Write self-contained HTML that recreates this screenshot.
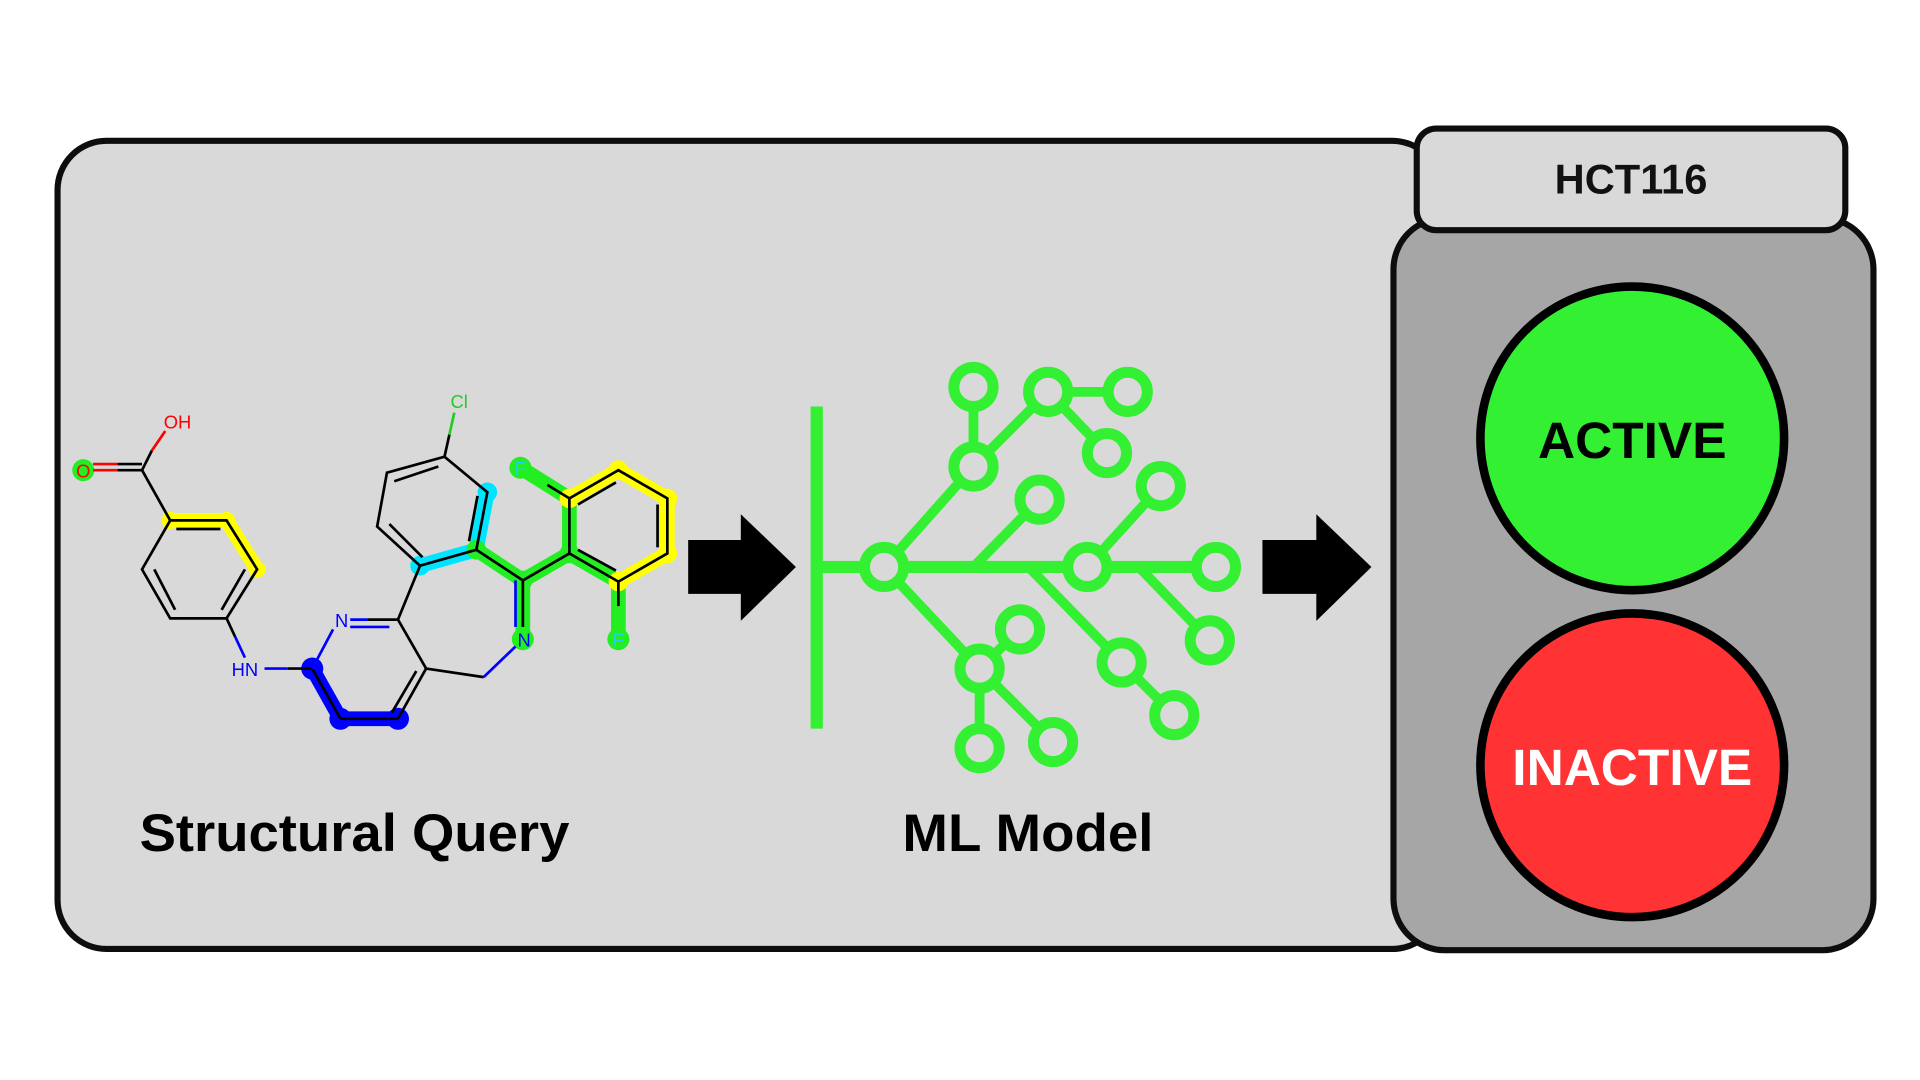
<!DOCTYPE html>
<html><head><meta charset="utf-8"><style>
html,body{margin:0;padding:0;background:#fff;width:1920px;height:1080px;overflow:hidden}
svg{display:block}
text{font-family:"Liberation Sans",sans-serif}
</style></head><body>
<svg width="1920" height="1080" viewBox="0 0 1568 882" xmlns="http://www.w3.org/2000/svg">
<rect width="1568" height="882" fill="#fff"/>
<rect x="47" y="115" width="1130" height="660" rx="40" fill="#d9d9d9" stroke="#0d0d0d" stroke-width="5"/>
<rect x="1138" y="178" width="392" height="598" rx="42" fill="#a6a6a6" stroke="#0d0d0d" stroke-width="5"/>
<rect x="1157" y="105" width="350" height="83" rx="16" fill="#d9d9d9" stroke="#0d0d0d" stroke-width="5"/>
<text x="1332" y="158" text-anchor="middle" font-size="34" font-weight="bold" fill="#111">HCT116</text>
<circle cx="1333" cy="358" r="124" fill="#33f033" stroke="#000" stroke-width="7"/>
<text x="1333" y="374" text-anchor="middle" font-size="42" font-weight="bold" fill="#000">ACTIVE</text>
<circle cx="1333" cy="625" r="124" fill="#ff3333" stroke="#000" stroke-width="7"/>
<text x="1333" y="641" text-anchor="middle" font-size="42" font-weight="bold" fill="#fff">INACTIVE</text>

<text x="114" y="695" font-size="43" font-weight="bold" fill="#000" textLength="351" lengthAdjust="spacingAndGlyphs">Structural Query</text>
<text x="737" y="695" font-size="43" font-weight="bold" fill="#000" textLength="205" lengthAdjust="spacingAndGlyphs">ML Model</text>

<polygon points="562,441 605,441 605,420 650,463 605,507 605,485 562,485" fill="#000"/>
<polygon points="1031,441 1075,441 1075,420 1120,463 1075,507 1075,485 1031,485" fill="#000"/>

<g stroke="#33f033" fill="none" stroke-linecap="butt">
<line x1="667" y1="332" x2="667" y2="595" stroke-width="10"/>
<line x1="667" y1="463" x2="993" y2="463" stroke-width="10"/>
<g stroke-width="8">
<line x1="722" y1="463" x2="795" y2="381"/>
<line x1="795" y1="381" x2="795" y2="316"/>
<line x1="795" y1="381" x2="856" y2="320"/>
<line x1="856" y1="320" x2="921" y2="320"/>
<line x1="856" y1="320" x2="904" y2="370"/>
<line x1="795" y1="463" x2="849" y2="408"/>
<line x1="888" y1="463" x2="948" y2="397"/>
<line x1="930" y1="463" x2="988" y2="523"/>
<line x1="840" y1="463" x2="916" y2="541"/>
<line x1="916" y1="541" x2="959" y2="584"/>
<line x1="722" y1="463" x2="800" y2="546"/>
<line x1="800" y1="546" x2="833" y2="514"/>
<line x1="800" y1="546" x2="800" y2="611"/>
<line x1="800" y1="546" x2="860" y2="606"/>
</g>
<g stroke-width="9" fill="#d9d9d9">
<circle cx="722" cy="463" r="16"/>
<circle cx="795" cy="316" r="16"/>
<circle cx="856" cy="320" r="16"/>
<circle cx="921" cy="320" r="16"/>
<circle cx="904" cy="370" r="16"/>
<circle cx="795" cy="381" r="16"/>
<circle cx="849" cy="408" r="16"/>
<circle cx="948" cy="397" r="16"/>
<circle cx="888" cy="463" r="16"/>
<circle cx="993" cy="463" r="16"/>
<circle cx="988" cy="523" r="16"/>
<circle cx="916" cy="541" r="16"/>
<circle cx="959" cy="584" r="16"/>
<circle cx="833" cy="514" r="16"/>
<circle cx="800" cy="546" r="16"/>
<circle cx="800" cy="611" r="16"/>
<circle cx="860" cy="606" r="16"/>
</g>
</g>

<g stroke-linecap="round" stroke-linejoin="round" fill="none">
<polyline points="139,425 185,425 210,465" stroke="#ffff00" stroke-width="12"/>
<polyline points="255,546 278,587 325,587" stroke="#0000ff" stroke-width="12"/>
<polyline points="343,462 389,449 398,402" stroke="#00e5ff" stroke-width="12"/>
<polyline points="389,449 427,474 465,452 505,475" stroke="#22ee22" stroke-width="12"/>
<polyline points="427,474 427,522" stroke="#22ee22" stroke-width="12"/>
<polyline points="465,452 465,407 425,382" stroke="#22ee22" stroke-width="12"/>
<polyline points="505,475 505,522" stroke="#22ee22" stroke-width="12"/>
<polyline points="465,407 505,384 545,407 545,452 505,475" stroke="#ffff00" stroke-width="12"/>
</g>
<g>
<circle cx="139" cy="425" r="7" fill="#ffff00"/><circle cx="185" cy="425" r="7" fill="#ffff00"/><circle cx="210" cy="465" r="7" fill="#ffff00"/>
<circle cx="68" cy="384" r="9" fill="#22ee22"/>
<circle cx="255" cy="546" r="9" fill="#0000ff"/><circle cx="278" cy="587" r="9" fill="#0000ff"/><circle cx="325" cy="587" r="9" fill="#0000ff"/>
<circle cx="343" cy="462" r="8" fill="#00e5ff"/><circle cx="398" cy="402" r="8" fill="#00e5ff"/>
<circle cx="389" cy="449" r="8" fill="#22ee22"/><circle cx="427" cy="474" r="8" fill="#22ee22"/><circle cx="427" cy="522" r="9" fill="#22ee22"/>
<circle cx="425" cy="382" r="9" fill="#22ee22"/><circle cx="505" cy="522" r="9" fill="#22ee22"/><circle cx="465" cy="452" r="8" fill="#22ee22"/>
<circle cx="465" cy="407" r="8" fill="#ffff00"/><circle cx="505" cy="384" r="8" fill="#ffff00"/><circle cx="545" cy="407" r="8" fill="#ffff00"/><circle cx="545" cy="452" r="8" fill="#ffff00"/><circle cx="505" cy="475" r="8" fill="#ffff00"/>
</g>
<g stroke="#000" stroke-width="2.2" fill="none">
<polygon points="139,425 185,425 210,465 185,505 139,505 116,465"/>
<line x1="144" y1="432" x2="180" y2="432"/>
<line x1="200" y1="465" x2="181" y2="498"/>
<line x1="126" y1="465" x2="143" y2="498"/>
<line x1="139" y1="425" x2="116" y2="384"/>
<line x1="116" y1="384" x2="96" y2="384"/>
<line x1="116" y1="379" x2="96" y2="379"/>
<line x1="325" y1="506" x2="348" y2="546"/>
<line x1="348" y1="546" x2="325" y2="587"/>
<line x1="340" y1="548" x2="320" y2="582"/>
<line x1="278" y1="587" x2="325" y2="587"/>
<line x1="255" y1="546" x2="278" y2="587"/>
<line x1="300" y1="506" x2="325" y2="506"/>
<line x1="325" y1="506" x2="343" y2="462"/>
<polygon points="343,462 389,449 398,402 363,373 316,386 308,430"/>
<line x1="383" y1="442" x2="390" y2="405"/>
<line x1="318" y1="428" x2="345" y2="455"/>
<line x1="322" y1="393" x2="358" y2="381"/>
<line x1="363" y1="373" x2="367" y2="355"/>
<line x1="389" y1="449" x2="427" y2="474"/>
<line x1="427" y1="474" x2="465" y2="452"/>
<line x1="427" y1="474" x2="427" y2="512"/>
<line x1="348" y1="546" x2="395" y2="553"/>
<polygon points="465,452 465,407 505,384 545,407 545,452 505,475"/>
<line x1="472" y1="412" x2="503" y2="394"/>
<line x1="537" y1="412" x2="537" y2="447"/>
<line x1="472" y1="449" x2="503" y2="466"/>
<line x1="465" y1="407" x2="447" y2="396"/>
<line x1="505" y1="475" x2="505" y2="495"/>
</g>
<g stroke-width="2.2" fill="none">
<line x1="96" y1="384" x2="76" y2="384" stroke="#ff0000"/>
<line x1="96" y1="379" x2="76" y2="379" stroke="#ff0000"/>
<line x1="116" y1="384" x2="124" y2="368" stroke="#000"/>
<line x1="124" y1="368" x2="135" y2="352" stroke="#ff0000"/>
<line x1="185" y1="505" x2="192" y2="520" stroke="#000"/>
<line x1="192" y1="520" x2="200" y2="537" stroke="#0000ff"/>
<line x1="216" y1="546" x2="235" y2="546" stroke="#0000ff"/>
<line x1="235" y1="546" x2="255" y2="546" stroke="#000"/>
<line x1="255" y1="546" x2="272" y2="514" stroke="#0000ff"/>
<line x1="286" y1="506" x2="300" y2="506" stroke="#0000ff"/>
<line x1="286" y1="512" x2="318" y2="512" stroke="#0000ff"/>
<line x1="367" y1="355" x2="371" y2="337" stroke="#22cc22"/>
<line x1="395" y1="553" x2="421" y2="528" stroke="#0000ff"/>
<line x1="421" y1="474" x2="421" y2="512" stroke="#0000ff"/>
</g>
<g font-size="15" text-anchor="middle">
<text x="68" y="390" fill="#ff0000">O</text>
<text x="145" y="350" fill="#ff0000">OH</text>
<text x="200" y="552" fill="#0000ff">HN</text>
<text x="279" y="512" fill="#0000ff">N</text>
<text x="375" y="333" fill="#22cc22">Cl</text>
<text x="428" y="528" fill="#0000ff">N</text>
<text x="425" y="388" fill="#22ccff">F</text>
<text x="505" y="528" fill="#22ccff">F</text>
</g>
</svg>
</body></html>
